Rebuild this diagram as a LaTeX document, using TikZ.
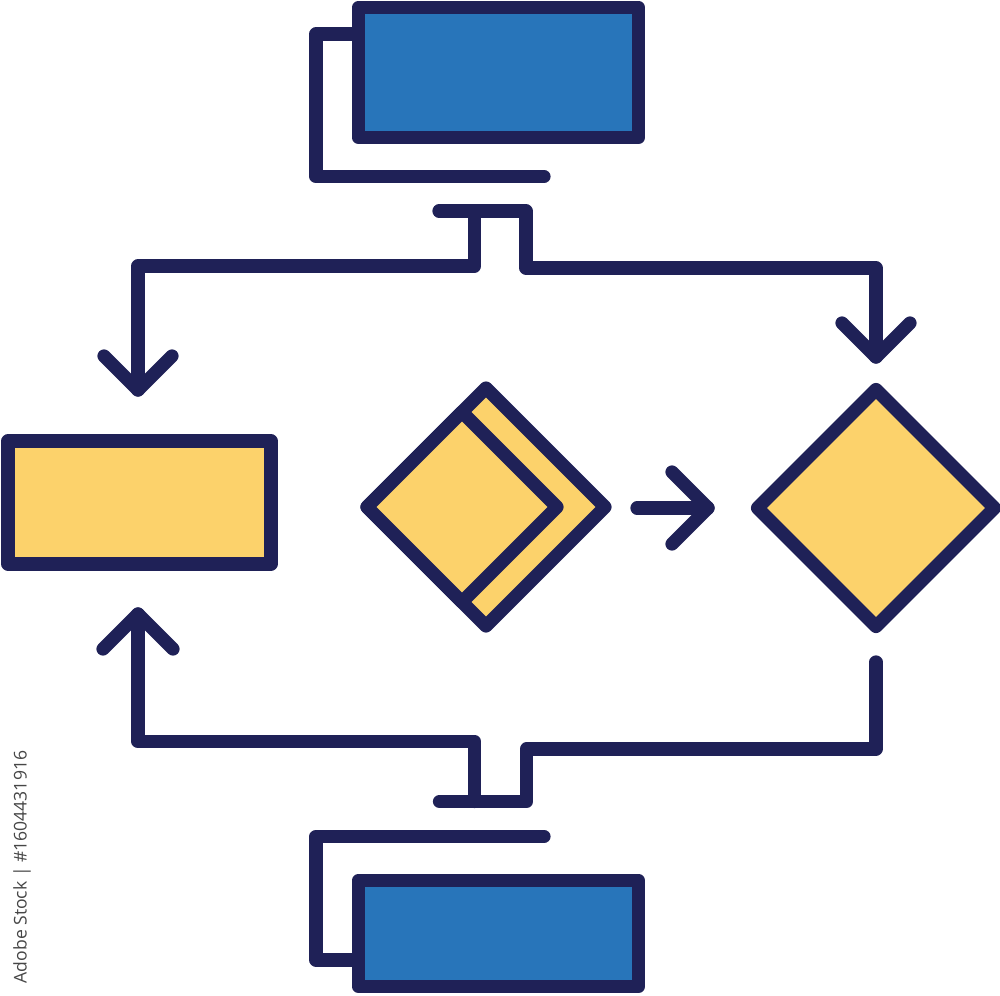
\documentclass[tikz,border=0pt]{standalone}
\usepackage{fontspec}
\setsansfont{Open Sans}
\usetikzlibrary{shapes.geometric}
\definecolor{navy}{RGB}{31,33,87}
\definecolor{boxblue}{RGB}{40,117,186}
\definecolor{boxyellow}{RGB}{252,210,107}
\definecolor{wmgray}{RGB}{70,70,70}
\tikzset{
  ln/.style={draw=navy, line width=0.265cm, line cap=round, line join=round},
  bluebox/.style={rectangle, ln, fill=boxblue, inner sep=0pt, outer sep=0pt},
  yellowbox/.style={rectangle, ln, fill=boxyellow, inner sep=0pt, outer sep=0pt},
  ydiamond/.style={diamond, ln, fill=boxyellow, inner sep=0pt, outer sep=0pt, aspect=1},
}
\begin{document}
\begin{tikzpicture}[x=0.02cm, y=-0.02cm]
\useasboundingbox (0,0) rectangle (1000,995);
\fill[white] (0,0) rectangle (1000,995);

% top document stack
\coordinate (tb1) at (358,34);
\coordinate (tb2) at (316,34);
\coordinate (tb3) at (316,176.5);
\coordinate (tb4) at (544,176.5);
\draw[ln] (tb1) -- (tb2) -- (tb3) -- (tb4);
\node[bluebox, minimum width=5.6cm, minimum height=2.6cm] (top) at (498.5,72.5) {};

% bottom document stack
\coordinate (bb1) at (544,836.5);
\coordinate (bb2) at (316,836.5);
\coordinate (bb3) at (316,960);
\coordinate (bb4) at (358,960);
\draw[ln] (bb1) -- (bb2) -- (bb3) -- (bb4);
\node[bluebox, minimum width=5.6cm, minimum height=2.12cm] (bottom) at (498.5,933.5) {};

% left process box
\node[yellowbox, minimum width=5.26cm, minimum height=2.46cm] (proc) at (139.5,502.5) {};

% stacked diamonds
\node[ydiamond, minimum width=4.76cm, minimum height=4.76cm] (dback) at (486,507) {};
\node[ydiamond, minimum width=3.8cm, minimum height=3.8cm] (dfront) at (462,507) {};

% right decision
\node[ydiamond, minimum width=4.74cm, minimum height=4.74cm] (dec) at (876,508) {};

% top split connector
\coordinate (ts1) at (439,211);
\coordinate (ts2) at (526,211);
\coordinate (ts3) at (526,268);
\coordinate (ts4) at (876,268);
\coordinate (ta) at (876,357);
\coordinate (tl1) at (474.5,211);
\coordinate (tl2) at (474.5,266);
\coordinate (tl3) at (138,266);
\coordinate (la) at (138,390);
\draw[ln] (ts1) -- (ts2) -- (ts3) -- (ts4) -- (ta);
\draw[ln] (tl1) -- (tl2) -- (tl3) -- (la);
\draw[ln] ([shift={(-34,-34)}]ta) -- (ta) -- ([shift={(34,-34)}]ta);
\draw[ln] ([shift={(-34,-34)}]la) -- (la) -- ([shift={(34,-34)}]la);

% middle arrow
\coordinate (ma1) at (637,508);
\coordinate (ma2) at (708,508);
\draw[ln] (ma1) -- (ma2);
\draw[ln] ([shift={(-36,-36)}]ma2) -- (ma2) -- ([shift={(-36,36)}]ma2);

% bottom merge connector
\coordinate (bs0) at (876,662);
\coordinate (bs1) at (876,749);
\coordinate (bs2) at (526.5,749);
\coordinate (bs3) at (526.5,801.5);
\coordinate (bs4) at (439.5,801.5);
\coordinate (bl1) at (474.5,801.5);
\coordinate (bl2) at (474.5,741.5);
\coordinate (bl3) at (138,741.5);
\coordinate (ua) at (138,614);
\draw[ln] (bs0) -- (bs1) -- (bs2) -- (bs3) -- (bs4);
\draw[ln] (bl1) -- (bl2) -- (bl3) -- (ua);
\draw[ln] ([shift={(-35,35)}]ua) -- (ua) -- ([shift={(35,35)}]ua);

% side credit text
\node[rotate=90, text=wmgray, font=\sffamily\fontsize{10}{12}\selectfont, inner sep=0pt] (credit) at (22,867) {Adobe Stock | \#1604431916};
\end{tikzpicture}
\end{document}
